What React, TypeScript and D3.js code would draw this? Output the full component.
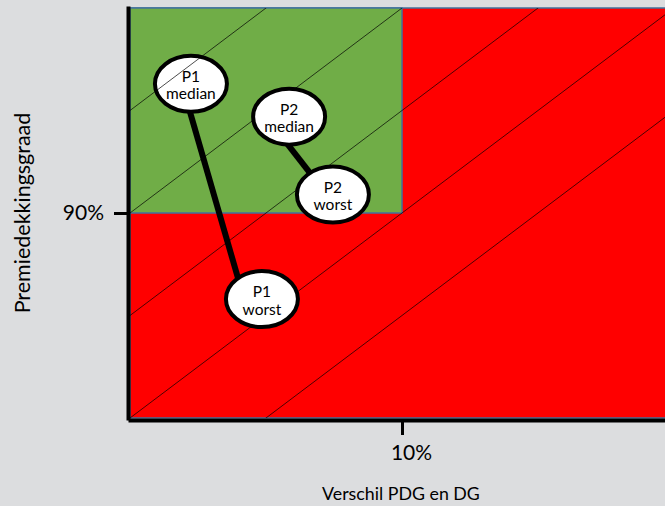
import { useEffect, useRef } from "react";
import * as d3 from "d3";

// axis ticks
const X_TICKS = [0.1];
const X_TICK_LABELS = ["10%"];
const Y_TICKS = [0.9];
const Y_TICK_LABELS = ["90%"];

// iso lines: PDG - verschil = DG
const DG_LINES = [0.75, 0.8, 0.85, 0.9, 0.95];

// scenario callouts (ellipse centres, data units)
const LABEL_NAMES = ["P1 median", "P2 median", "P2 worst", "P1 worst"];
const LABEL_X = [0.0224, 0.0585, 0.0746, 0.0485];
const LABEL_Y = [0.963, 0.947, 0.909, 0.858];

// connector segments between median and worst
const CONNECTOR_NAMES = ["P1", "P2"];
const CONNECTOR_X0 = [0.0195, 0.0559];
const CONNECTOR_Y0 = [0.961, 0.937];
const CONNECTOR_X1 = [0.0415, 0.0691];
const CONNECTOR_Y1 = [0.86, 0.9146];

const W = 665;
const H = 506;
const LEFT = 130;
const RIGHT = 674;
const TOP = 8;
const BOTTOM = 418;
const FONT = "Lato, 'Open Sans', sans-serif";

export default function App() {
  const svgRef = useRef<SVGSVGElement>(null);

  useEffect(() => {
    if (!svgRef.current) return;
    document.body.style.margin = "0";
    const svg = d3.select(svgRef.current);
    svg.selectAll("*").remove();

    const x = d3.scaleLinear().domain([0, 0.2]).range([LEFT, RIGHT]);
    const y = d3.scaleLinear().domain([0.8, 1.0]).range([BOTTOM, TOP]);

    svg.append("rect").attr("width", W).attr("height", H).attr("fill", "#dcdddf");

    svg.append("defs")
      .append("clipPath")
      .attr("id", "plot-clip")
      .append("rect")
      .attr("x", LEFT)
      .attr("y", TOP)
      .attr("width", RIGHT - LEFT)
      .attr("height", BOTTOM - TOP);

    // red zone
    svg.append("rect")
      .attr("x", x(0))
      .attr("y", y(1))
      .attr("width", x(0.2) - x(0))
      .attr("height", y(0.8) - y(1))
      .attr("fill", "#ff0000")
      .attr("stroke", "#41719c")
      .attr("stroke-width", 1.5);

    // green zone
    svg.append("rect")
      .attr("x", x(0))
      .attr("y", y(1))
      .attr("width", x(X_TICKS[0]) - x(0))
      .attr("height", y(Y_TICKS[0]) - y(1))
      .attr("fill", "#70ad47")
      .attr("stroke", "#41719c")
      .attr("stroke-width", 1.5);

    const labels = LABEL_NAMES.map((name, i) => ({ name, x: LABEL_X[i], y: LABEL_Y[i] }));
    const connectors = CONNECTOR_NAMES.map((name, i) => ({
      name,
      pts: [[CONNECTOR_X0[i], CONNECTOR_Y0[i]], [CONNECTOR_X1[i], CONNECTOR_Y1[i]]] as [number, number][],
    }));

    const line = d3.line<[number, number]>()
      .x((d) => x(d[0]))
      .y((d) => y(d[1]));

    function drawConnector(c: (typeof connectors)[0]) {
      svg.append("path")
        .attr("d", line(c.pts))
        .attr("fill", "none")
        .attr("stroke", "#000")
        .attr("stroke-width", 6);
    }

    function drawLabel(l: (typeof labels)[0]) {
      const g = svg.append("g").attr("transform", `translate(${x(l.x)},${y(l.y)})`);
      g.append("ellipse")
        .attr("rx", 36)
        .attr("ry", 28)
        .attr("fill", "#fff")
        .attr("stroke", "#000")
        .attr("stroke-width", 4);
      const parts = l.name.split(" ");
      g.selectAll("text")
        .data(parts)
        .join("text")
        .attr("y", (_d, i) => (i === 0 ? -8 : 9.5))
        .attr("text-anchor", "middle")
        .attr("dominant-baseline", "central")
        .attr("font-family", FONT)
        .attr("font-size", 15.5)
        .attr("fill", "#000")
        .text((d) => d);
    }

    // P1 median sits under the grid lines in the original
    drawConnector(connectors[0]);
    drawLabel(labels[0]);

    // diagonal DG lines
    svg.append("g")
      .attr("clip-path", "url(#plot-clip)")
      .selectAll("path")
      .data(DG_LINES)
      .join("path")
      .attr("d", (dg) => line([[0, dg], [0.2, dg + 0.2]]))
      .attr("fill", "none")
      .attr("stroke", "#000")
      .attr("stroke-width", 0.7);

    drawConnector(connectors[1]);
    labels.slice(1).forEach(drawLabel);

    // axes
    const yAxis = svg.append("g")
      .attr("transform", `translate(${LEFT - 2},0)`)
      .call(
        d3.axisLeft(y)
          .tickValues(Y_TICKS)
          .tickFormat((_d, i) => Y_TICK_LABELS[i])
          .tickSize(14)
          .tickSizeOuter(0)
          .tickPadding(10)
      );
    const xAxis = svg.append("g")
      .attr("transform", `translate(0,${BOTTOM + 2})`)
      .call(
        d3.axisBottom(x)
          .tickValues(X_TICKS)
          .tickFormat((_d, i) => X_TICK_LABELS[i])
          .tickSize(15)
          .tickSizeOuter(0)
          .tickPadding(10)
      );
    [yAxis, xAxis].forEach((ax) => {
      ax.select(".domain").attr("stroke", "#000").attr("stroke-width", 4).attr("stroke-linecap", "square");
      ax.selectAll(".tick line").attr("stroke", "#000").attr("stroke-width", 3);
      ax.selectAll("text").attr("font-family", FONT).attr("font-size", 21).attr("fill", "#000");
    });
    xAxis.selectAll(".tick text").attr("dx", 9);

    // axis titles
    svg.append("text")
      .attr("x", 401)
      .attr("y", 500)
      .attr("text-anchor", "middle")
      .attr("font-family", FONT)
      .attr("font-size", 17.8)
      .attr("fill", "#000")
      .text("Verschil PDG en DG");

    svg.append("text")
      .attr("transform", `translate(30,${(TOP + BOTTOM) / 2}) rotate(-90)`)
      .attr("text-anchor", "middle")
      .attr("font-family", FONT)
      .attr("font-size", 21.5)
      .attr("fill", "#000")
      .text("Premiedekkingsgraad");
  }, []);

  return <svg ref={svgRef} width={W} height={H} style={{ display: "block" }} />;
}
